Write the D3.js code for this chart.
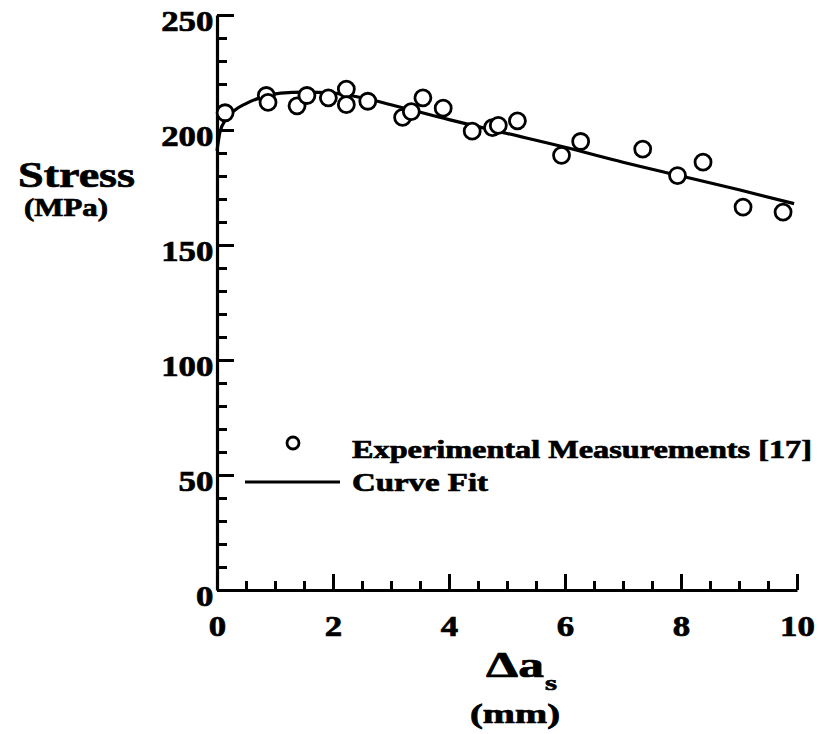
<!DOCTYPE html>
<html>
<head>
<meta charset="utf-8">
<script src="https://cdn.jsdelivr.net/npm/d3@7"></script>
<style>
  html, body { margin: 0; padding: 0; background: #fff; }
  svg { display: block; }
  text { font-family: "Liberation Serif", "Tinos", "Times New Roman", Times, serif; font-weight: bold; fill: #000; stroke: #000; stroke-width: 0.7px; }
</style>
</head>
<body>
<script>
// ---- data ----
const expX = [0.14, 0.85, 0.88, 1.38, 1.55, 1.92, 2.23, 2.23, 2.6, 3.2, 3.35, 3.55, 3.9, 4.4, 4.75, 4.85, 5.18, 5.94, 6.27, 7.34, 7.94, 8.38, 9.07, 9.76];
const expY = [207.5, 215, 212, 210.5, 215, 214, 217.8, 211, 212.5, 205.5, 208, 214, 209.5, 199.5, 201, 202, 204, 189, 195, 191.7, 180.2, 186, 166.5, 164.3];
const fitX = [0, 0.05, 0.15, 0.3, 0.5, 0.8, 1.1, 1.5, 2.0, 2.5, 3.0, 4.0, 5.0, 6.0, 7.0, 8.0, 9.0, 9.95];
const fitY = [191, 199, 204.5, 208.5, 211.5, 214.5, 216, 216.5, 216, 214, 211, 204.5, 198.5, 192.5, 186, 180, 174, 168];
const xMajor = [0, 2, 4, 6, 8, 10];
const xMinor = [0.5, 1, 1.5, 2.5, 3, 3.5, 4.5, 5, 5.5, 6.5, 7, 7.5, 8.5, 9, 9.5];
const yMajor = [0, 50, 100, 150, 200, 250];
const yMinor = [10, 20, 30, 40, 60, 70, 80, 90, 110, 120, 130, 140, 160, 170, 180, 190, 210, 220, 230, 240];
const legendLabels = ["Experimental Measurements [17]", "Curve Fit"];

const W = 819, H = 734;
const svg = d3.select("body").append("svg").attr("width", W).attr("height", H);

const x = d3.scaleLinear().domain([0, 10]).range([217, 797]);
const y = d3.scaleLinear().domain([0, 250]).range([590, 15]);

const SX = 1.2; // horizontal stretch of the scanned digits

// minor ticks
svg.append("g").attr("transform", `translate(0,${y(0)})`)
  .call(d3.axisBottom(x).tickValues(xMinor).tickSizeInner(-9).tickSizeOuter(0).tickFormat(""))
  .call(g => g.select(".domain").remove());
svg.append("g").attr("transform", `translate(${x(0)},0)`)
  .call(d3.axisLeft(y).tickValues(yMinor).tickSizeInner(-10).tickSizeOuter(0).tickFormat(""))
  .call(g => g.select(".domain").remove());

// major x axis
const gx = svg.append("g").attr("transform", `translate(0,${y(0)})`)
  .call(d3.axisBottom(x).tickValues(xMajor).tickSizeInner(-16).tickSizeOuter(0).tickPadding(25).tickFormat(d3.format("d")));
gx.selectAll("text").attr("font-size", 29)
  .attr("transform", `scale(${SX},1)`);

// major y axis
const gy = svg.append("g").attr("transform", `translate(${x(0)},0)`)
  .call(d3.axisLeft(y).tickValues(yMajor).tickSizeInner(-17).tickSizeOuter(0).tickPadding(3).tickFormat(d3.format("d")));
gy.selectAll("text").attr("font-size", 29)
  .attr("dy", "0.55em").attr("transform", `scale(${SX},1)`);

svg.selectAll(".tick line").attr("stroke", "#000").attr("stroke-width", 3);
svg.selectAll(".domain").attr("stroke", "#000").attr("stroke-width", 3.2);

// curve fit
const line = d3.line().x(d => x(d[0])).y(d => y(d[1])).curve(d3.curveMonotoneX);
svg.append("path").datum(fitX.map((v, i) => [v, fitY[i]]))
  .attr("d", line).attr("fill", "none").attr("stroke", "#000").attr("stroke-width", 3.2);

// experimental points
svg.append("g").selectAll("circle").data(expX.map((v, i) => [v, expY[i]])).join("circle")
  .attr("cx", d => x(d[0])).attr("cy", d => y(d[1])).attr("r", 8)
  .attr("fill", "#fff").attr("stroke", "#000").attr("stroke-width", 2.8);

// legend
svg.append("circle").attr("cx", 293).attr("cy", 443).attr("r", 6)
  .attr("fill", "#fff").attr("stroke", "#000").attr("stroke-width", 2.8);
svg.append("line").attr("x1", 245).attr("x2", 340).attr("y1", 482).attr("y2", 482)
  .attr("stroke", "#000").attr("stroke-width", 3.2);

function stretchedText(str, px, py, size, width) {
  return svg.append("text").attr("x", px).attr("y", py).attr("font-size", size)
    .attr("textLength", width).attr("lengthAdjust", "spacingAndGlyphs").text(str);
}
stretchedText(legendLabels[0], 352, 458, 25, 460);
stretchedText(legendLabels[1], 352, 491, 25, 136);

// axis titles
stretchedText("Stress", 18, 187, 35, 117);
stretchedText("(MPa)", 24, 216, 25, 84);

stretchedText("Δa", 486, 677, 35, 58);
stretchedText("s", 545, 690, 22, 12);
stretchedText("(mm)", 470, 723, 27, 90);
</script>
</body>
</html>
